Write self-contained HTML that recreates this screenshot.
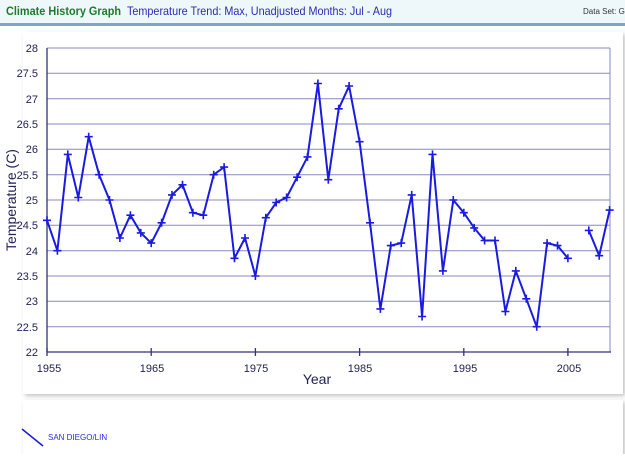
<!DOCTYPE html><html><head><style>body{margin:0;width:625px;height:454px;overflow:hidden;background:#fff;font-family:"Liberation Sans",Arial,sans-serif}</style></head><body>
<svg width="625" height="454" xmlns="http://www.w3.org/2000/svg" font-family="Liberation Sans, Arial, sans-serif">
<defs><marker id="p" markerWidth="9" markerHeight="9" refX="4.5" refY="4.5" markerUnits="userSpaceOnUse"><path d="M4.5 0.5V8.5M0.5 4.5H8.5" stroke="#1a1ae0" stroke-width="1.6"/></marker>
<filter id="s"><feDropShadow dx="2" dy="2" stdDeviation="2" flood-color="#999" flood-opacity="0.6"/></filter></defs>
<rect x="0" y="0" width="625" height="24" fill="#eef8fb"/>
<rect x="0" y="23" width="625" height="3" fill="#7fa6c9"/>
<text x="6" y="15" font-size="12" font-weight="bold" fill="#1e7a2a" textLength="115" lengthAdjust="spacingAndGlyphs">Climate History Graph</text>
<text x="127" y="15" font-size="12" fill="#2a2ab0" textLength="265" lengthAdjust="spacingAndGlyphs">Temperature Trend: Max, Unadjusted Months: Jul - Aug</text>
<text x="583" y="14" font-size="8" fill="#333">Data Set: G</text>
<rect x="23" y="32" width="600" height="362" fill="#fff" filter="url(#s)"/>
<g stroke="#8888c0" stroke-width="1">
<line x1="47" y1="48" x2="610" y2="48"/><line x1="47" y1="73.3" x2="610" y2="73.3"/><line x1="47" y1="98.7" x2="610" y2="98.7"/><line x1="47" y1="124" x2="610" y2="124"/><line x1="47" y1="149.3" x2="610" y2="149.3"/><line x1="47" y1="174.7" x2="610" y2="174.7"/><line x1="47" y1="200" x2="610" y2="200"/><line x1="47" y1="225.3" x2="610" y2="225.3"/><line x1="47" y1="250.7" x2="610" y2="250.7"/><line x1="47" y1="276" x2="610" y2="276"/><line x1="47" y1="301.3" x2="610" y2="301.3"/><line x1="47" y1="326.7" x2="610" y2="326.7"/>
<line x1="610" y1="48" x2="610" y2="352"/></g>
<g stroke="#333377" stroke-width="1.3"><line x1="47" y1="48" x2="47" y2="352"/><line x1="47" y1="352" x2="611" y2="352"/>
<line x1="151.2" y1="348" x2="151.2" y2="356"/><line x1="255.4" y1="348" x2="255.4" y2="356"/><line x1="359.6" y1="348" x2="359.6" y2="356"/><line x1="463.8" y1="348" x2="463.8" y2="356"/><line x1="567.9" y1="348" x2="567.9" y2="356"/><line x1="47" y1="348" x2="47" y2="356"/></g>
<g font-size="11" fill="#222255" text-anchor="end">
<text x="38" y="52">28</text><text x="38" y="77">27.5</text><text x="38" y="103">27</text><text x="38" y="128">26.5</text><text x="38" y="153">26</text><text x="38" y="179">25.5</text><text x="38" y="204">25</text><text x="38" y="229">24.5</text><text x="38" y="255">24</text><text x="38" y="280">23.5</text><text x="38" y="305">23</text><text x="38" y="331">22.5</text><text x="38" y="356">22</text></g>
<g font-size="11" fill="#222255" text-anchor="middle"><text x="49" y="372">1955</text><text x="152" y="372">1965</text><text x="256" y="372">1975</text><text x="360" y="372">1985</text><text x="465" y="372">1995</text><text x="569" y="372">2005</text></g>
<text x="317" y="384" font-size="14" fill="#222255" text-anchor="middle">Year</text>
<text transform="translate(16 200) rotate(-90)" font-size="14" fill="#222255" text-anchor="middle">Temperature (C)</text>
<g fill="none" stroke="#1a1ae0" stroke-width="2" marker-start="url(#p)" marker-mid="url(#p)" marker-end="url(#p)">
<polyline points="47,220.3 57.4,250.7 67.8,154.4 78.3,197.5 88.7,136.7 99.1,174.7 109.5,200 119.9,238 130.4,215.2 140.8,232.9 151.2,243.1 161.6,222.8 172,194.9 182.5,184.8 192.9,212.7 203.3,215.2 213.7,174.7 224.1,167.1 234.5,258.3 245,238 255.4,276 265.8,217.7 276.2,202.5 286.6,197.5 297.1,177.2 307.5,156.9 317.9,83.5 328.3,179.7 338.7,108.8 349.1,86 359.6,141.7 370,222.8 380.4,308.9 390.8,245.6 401.2,243.1 411.7,194.9 422.1,316.5 432.5,154.4 442.9,270.9 453.3,200 463.8,212.7 474.2,227.9 484.6,240.5 495,240.5 505.4,311.5 515.8,270.9 526.3,298.8 536.7,326.7 547.1,243.1 557.5,245.6 567.9,258.3"/>
<polyline points="588.8,230.4 599.2,255.7 609.6,210.1"/></g>
<rect x="23" y="400" width="600" height="60" fill="#fff" filter="url(#s)"/>
<line x1="22" y1="429" x2="43" y2="446" stroke="#1a1ae0" stroke-width="1.5"/>
<text x="48" y="440" font-size="8" fill="#2a2ae0">SAN DIEGO/LIN</text>
</svg></body></html>
